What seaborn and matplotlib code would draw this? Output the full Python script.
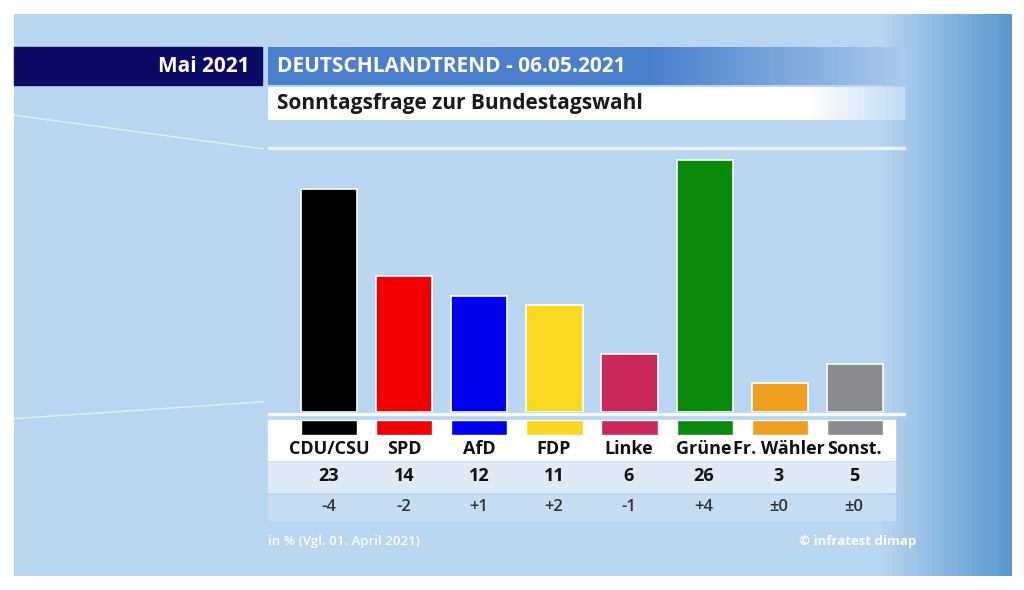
"""
Deutschlandtrend Sonntagsfrage chart, Mai 2021.
"""

import numpy as np
import pandas as pd
import matplotlib
matplotlib.use("Agg")
import matplotlib.pyplot as plt
import seaborn as sns
from matplotlib.patches import Rectangle

# ── Data ───────────────────────────────────────────────────────────────────────
PARTIES = ["CDU/CSU", "SPD", "AfD", "FDP", "Linke", "Grüne", "Fr. Wähler", "Sonst."]
VALUES  = [23, 14, 12, 11, 6, 26, 3, 5]
CHANGES = ["-4", "-2", "+1", "+2", "-1", "+4", "±0", "±0"]
COLORS  = ["#000000", "#f00000", "#0000f0", "#f8d820", "#c8285a", "#0a8a0a", "#f0a020", "#8a8c90"]

W, H = 1024, 590
FONT = "Open Sans"


def fx(x):
    return x / W


def fy(y):
    return 1 - y / H


def box(fig, x0, y0, x1, y1, color, **kw):
    fig.patches.append(Rectangle((fx(x0), fy(y1)), fx(x1 - x0), fy(y0) - fy(y1),
                                 transform=fig.transFigure, color=color, **kw))


def gradient_box(fig, x0, y0, x1, y1, c0, c1, fade_from=0.8):
    ax = fig.add_axes([fx(x0), fy(y1), fx(x1 - x0), fy(y0) - fy(y1)])
    ax.axis("off")
    n = 200
    t = np.linspace(0, 1, n)
    a = np.array(matplotlib.colors.to_rgba(c0))
    b = np.array(matplotlib.colors.to_rgba(c1))
    w = np.clip((t - fade_from) / (1 - fade_from), 0, 1)[:, None]
    img = (a * (1 - w) + b * w)[None, :, :]
    ax.imshow(img, aspect="auto", extent=[0, 1, 0, 1])
    return ax


def main():
    sns.set_theme(style="white")
    plt.rcParams["font.family"] = [FONT, "DejaVu Sans"]
    fig = plt.figure(figsize=(W / 100, H / 100), dpi=100)
    fig.patch.set_facecolor("white")

    # background panel
    bg = gradient_box(fig, 14, 14, 1012, 576, "#b9d6f0", "#5a98d0", fade_from=0.87)
    bg.plot([0, 0.25], [0.82, 0.76], color="white", lw=1, alpha=0.6)
    bg.plot([0, 0.25], [0.28, 0.31], color="white", lw=1, alpha=0.6)

    # header
    box(fig, 14, 47, 262, 85, "#0b0b66")
    fig.text(fx(250), fy(66), "Mai 2021", color="white", fontsize=15, fontweight="bold",
             ha="right", va="center")
    gradient_box(fig, 268, 47, 905, 85, "#4a7fcc", "#a9cbec", fade_from=0.6)
    fig.text(fx(277), fy(66), "DEUTSCHLANDTREND - 06.05.2021", color="white", fontsize=15,
             fontweight="bold", va="center")
    gradient_box(fig, 268, 87, 905, 120, "#ffffff", "#c3dcf2", fade_from=0.85)
    fig.text(fx(277), fy(103), "Sonntagsfrage zur Bundestagswahl", color="#1a1a1a",
             fontsize=15, fontweight="bold", va="center")
    box(fig, 268, 147, 905, 148.5, "white", alpha=0.6)

    df = pd.DataFrame({"party": PARTIES, "value": VALUES})

    # bars
    ax = fig.add_axes([fx(291.5), fy(412), fx(601), fy(140) - fy(412)])
    sns.barplot(data=df, x="party", y="value", hue="party", palette=COLORS, legend=False,
                width=0.75, saturation=1, edgecolor="white", linewidth=1.2, ax=ax)
    ax.set_xlim(-0.5, 7.5)
    ax.set_ylim(0, 28.07)
    ax.axis("off")
    ax.patch.set_alpha(0)

    # baseline
    box(fig, 268, 413, 905, 415, "white", alpha=0.85)

    # rows
    box(fig, 268, 420, 895, 460, "white")
    box(fig, 268, 462, 895, 492, "#dfeaf6")
    box(fig, 268, 495, 895, 520, "#c6dcf0")

    # colour stubs
    stub = fig.add_axes([fx(291.5), fy(435), fx(601), fy(420) - fy(435)])
    sns.barplot(data=df.assign(value=1), x="party", y="value", hue="party", palette=COLORS,
                legend=False, width=0.75, saturation=1, ax=stub)
    stub.set_xlim(-0.5, 7.5)
    stub.set_ylim(0, 1)
    stub.axis("off")
    stub.set_zorder(3)

    for i, (p, v, c) in enumerate(zip(PARTIES, VALUES, CHANGES)):
        x = fx(329 + 75 * i)
        fig.text(x, fy(449), p, ha="center", va="center", fontsize=13, fontweight="bold",
                 color="#111111")
        fig.text(x, fy(476), str(v), ha="center", va="center", fontsize=13, fontweight="bold",
                 color="#111111")
        fig.text(x, fy(507), c, ha="center", va="center", fontsize=12, fontweight="semibold",
                 color="#333333")

    fig.text(fx(268), fy(541), "in % (Vgl. 01. April 2021)", color="white", fontsize=9.5,
             fontweight="semibold", va="center")
    fig.text(fx(916), fy(541), "© infratest dimap", color="white", fontsize=9.5,
             fontweight="bold", ha="right", va="center")

    fig.savefig("out.png", dpi=100)
    plt.close(fig)


if __name__ == "__main__":
    main()
